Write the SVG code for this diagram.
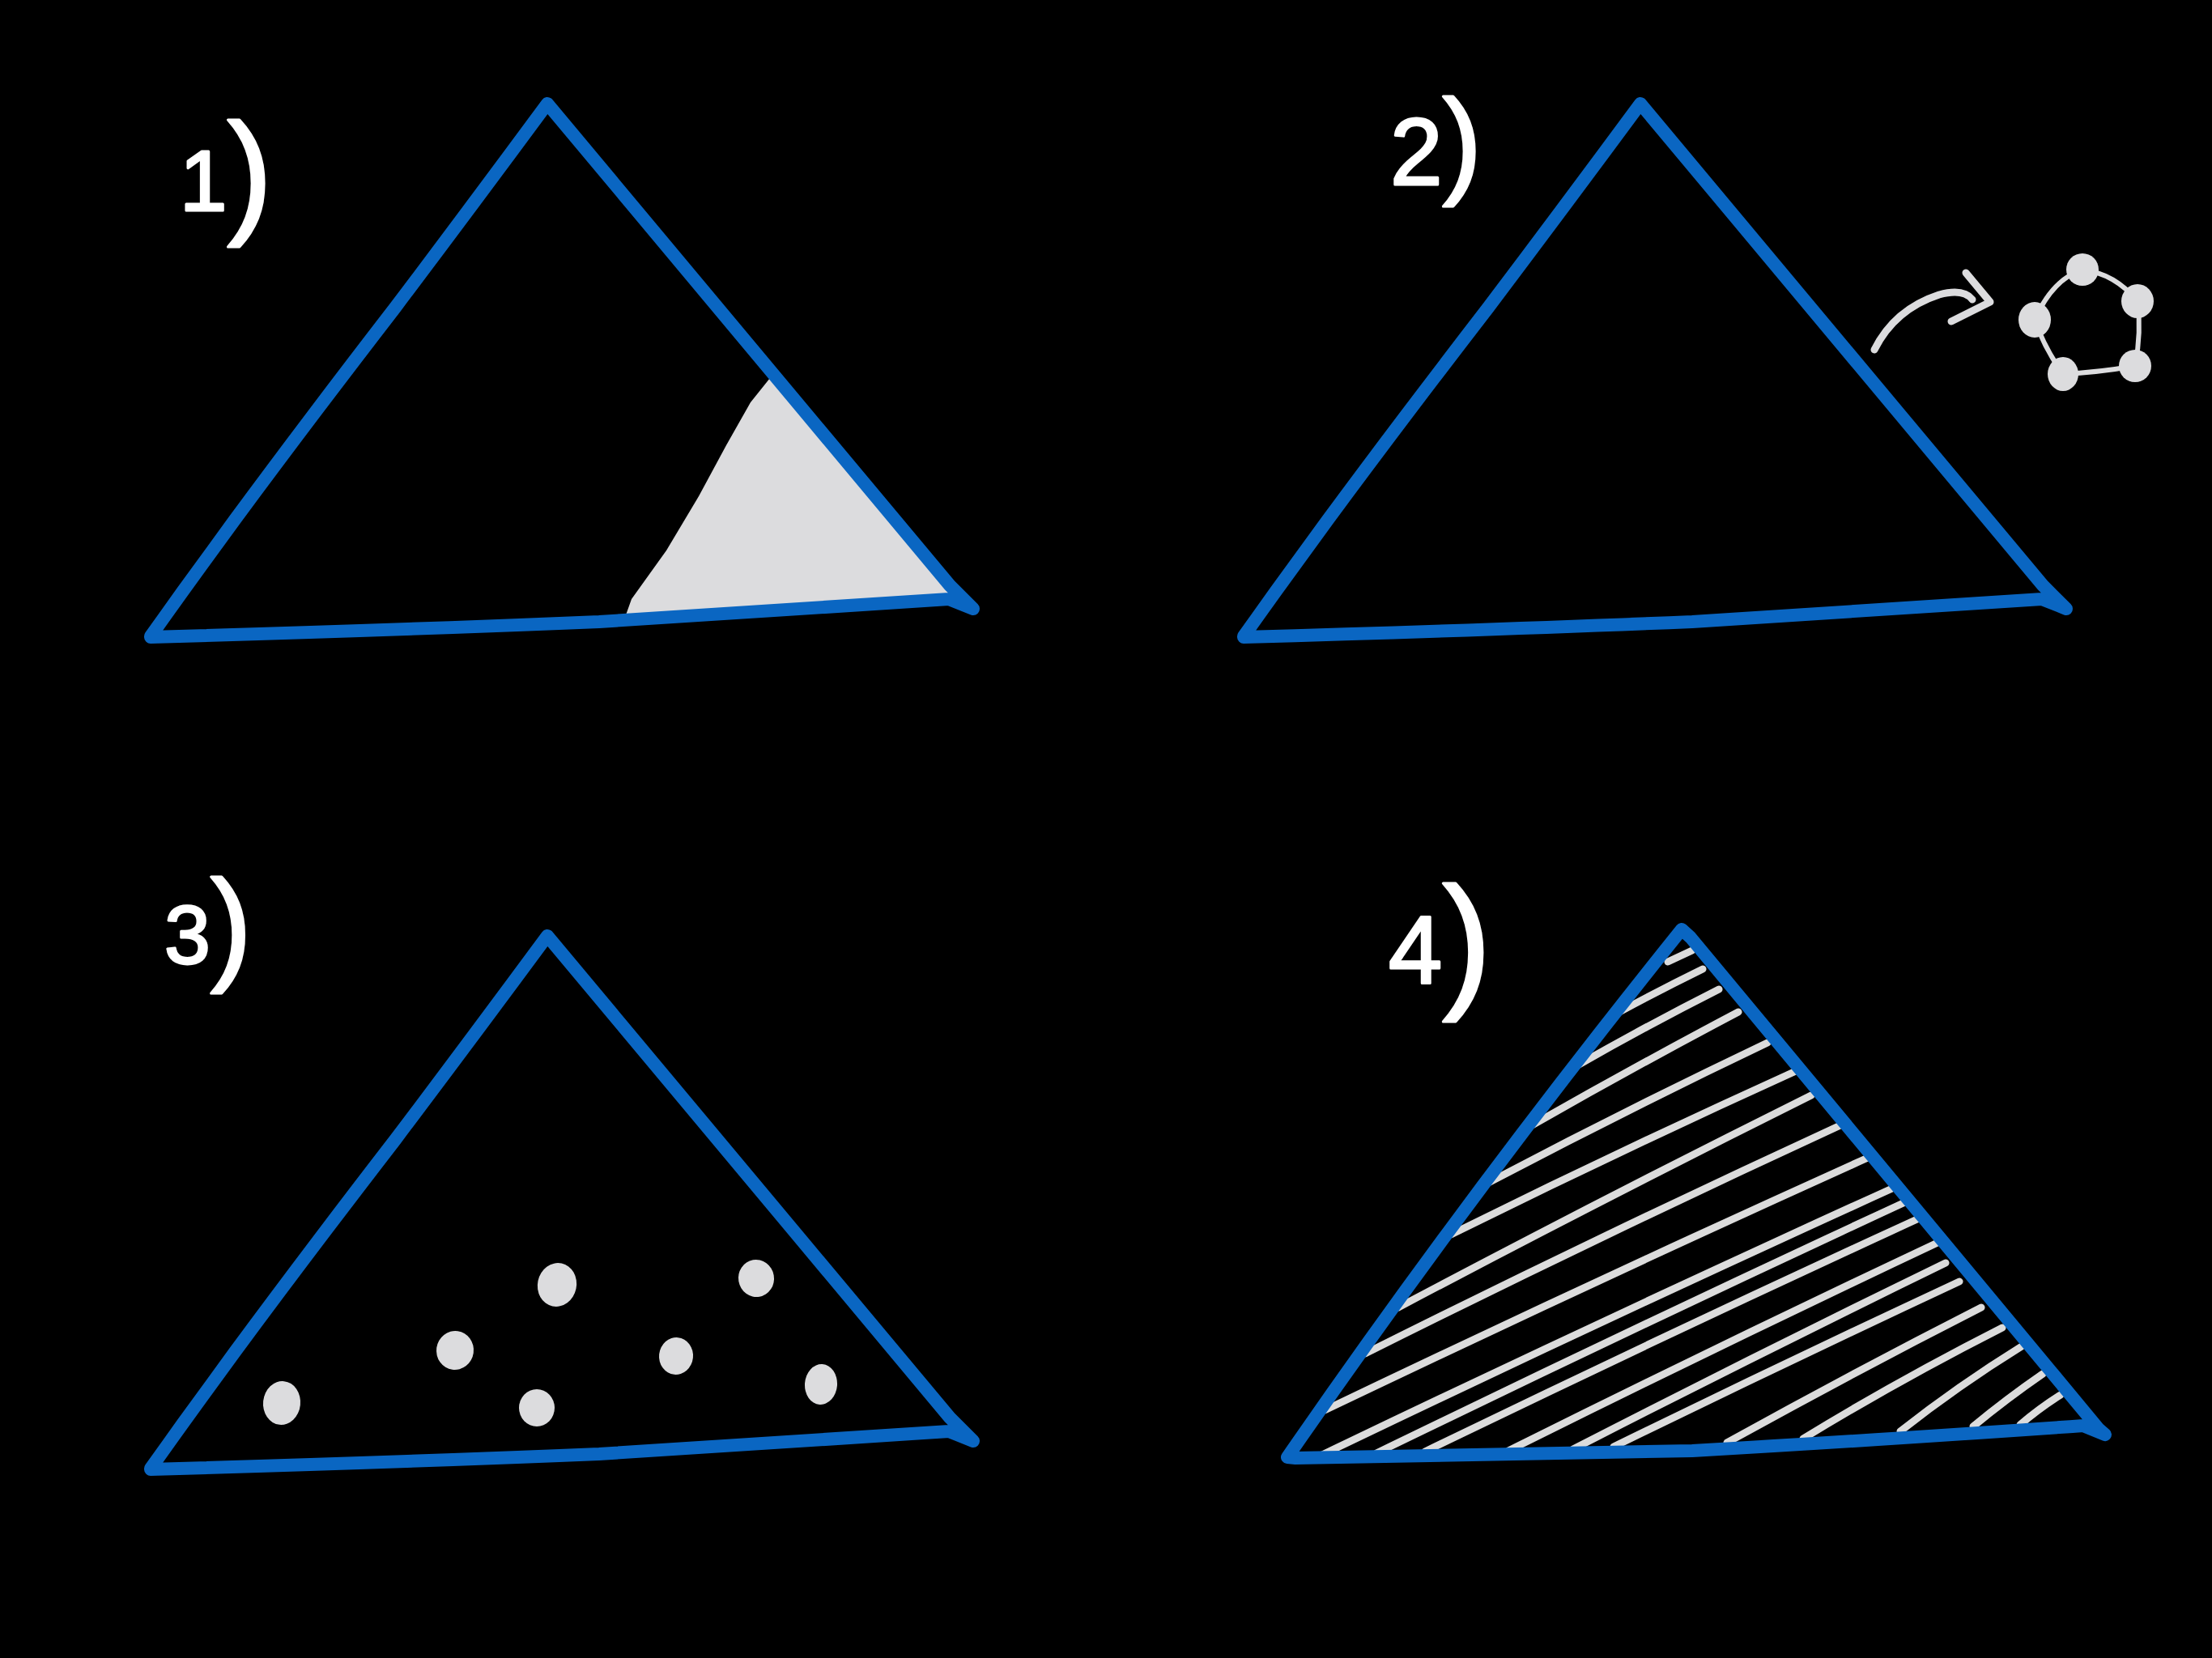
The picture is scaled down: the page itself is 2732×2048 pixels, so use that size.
<svg xmlns="http://www.w3.org/2000/svg" xmlns:xlink="http://www.w3.org/1999/xlink" width="2732" height="2048" viewBox="0 0 2732 2048">
<style>
.tri{fill:none;stroke:#0a66c2;stroke-width:16;stroke-linejoin:round;stroke-linecap:round}
.hatch{fill:none;stroke:#dcdcdc;stroke-width:9;stroke-linecap:round}
.grey{fill:#dcdcde}
.link{fill:none;stroke:#dcdcde;stroke-width:6;stroke-linecap:round}
.arrow{fill:none;stroke:#dcdcde;stroke-width:9;stroke-linecap:round;stroke-linejoin:round}
.label{fill:#ffffff;stroke:#ffffff;stroke-width:3;stroke-linejoin:round;font-family:"Liberation Sans",Arial,sans-serif}
</style>
<defs>
<path id="triShape" d="M186,786 L226,730 L290,642 Q380,520 488,380 Q580,258 676,128 L1173,723 L1202,752 L1172,740 Q960,753 740,768 Q500,778 186,787"/>
</defs>
<rect x="0" y="0" width="2732" height="2048" fill="#000000"/>

<g id="panel-1">
<polygon class="grey" points="955,462 927,497 897,550 863,613 823,680 780,740 770,768 960,756 1175,740 1173,723"/>
<use xlink:href="#triShape" href="#triShape" class="tri"/>
<text class="label" x="222" y="260"><tspan font-size="105">1</tspan><tspan font-size="168" dy="10">)</tspan></text>
</g>

<g id="panel-2">
<use xlink:href="#triShape" href="#triShape" class="tri" transform="translate(1350,0)"/>
<text class="label" x="1717" y="228"><tspan font-size="116">2</tspan><tspan font-size="146" dy="-3">)</tspan></text>
</g>

<g id="molecule">
<path class="link" d="M2572,333 Q2612,338 2640,372"/>
<path class="link" d="M2640,372 Q2645,410 2637,452"/>
<path class="link" d="M2637,452 Q2592,460 2548,462"/>
<path class="link" d="M2548,462 Q2525,430 2513,395"/>
<path class="link" d="M2513,395 Q2535,345 2572,333"/>
<ellipse cx="2572" cy="333" rx="20" ry="20" fill="#dcdcde"/>
<ellipse cx="2640" cy="372" rx="20" ry="21" fill="#dcdcde"/>
<ellipse cx="2637" cy="452" rx="20" ry="20" fill="#dcdcde"/>
<ellipse cx="2548" cy="462" rx="19" ry="21" fill="#dcdcde"/>
<ellipse cx="2513" cy="395" rx="20" ry="22" fill="#dcdcde"/>
</g>

<g id="connectors">
<path class="arrow" d="M2315,432 Q2340,382 2395,364 Q2425,356 2436,370"/>
<polyline class="arrow" points="2428,337 2458,373 2410,397"/>
</g>

<g id="panel-3">
<use xlink:href="#triShape" href="#triShape" class="tri" transform="translate(0,1028)"/>
<text class="label" x="203" y="1190"><tspan font-size="102">3</tspan><tspan font-size="154" dy="5">)</tspan></text>
<g fill="#dcdcde">
<ellipse cx="348" cy="1733" rx="23" ry="27" transform="rotate(6 348 1733)"/>
<ellipse cx="562" cy="1668" rx="23" ry="24" transform="rotate(8 562 1668)"/>
<ellipse cx="688" cy="1587" rx="24" ry="27" transform="rotate(12 688 1587)"/>
<ellipse cx="663" cy="1739" rx="22" ry="23"/>
<ellipse cx="835" cy="1675" rx="21" ry="23" transform="rotate(6 835 1675)"/>
<ellipse cx="934" cy="1579" rx="22" ry="23" transform="rotate(-10 934 1579)"/>
<ellipse cx="1014" cy="1710" rx="20" ry="25" transform="rotate(4 1014 1710)"/>
</g>
</g>

<g id="panel-4">
<g class="hatch">
<path d="M2060,1188 L2090,1174"/>
<path d="M2000,1250 Q2052,1222 2103,1197"/>
<path d="M1950,1315 Q2036,1266 2123,1222"/>
<path d="M1892,1390 Q2020,1317 2147,1250"/>
<path d="M1840,1460 Q2011,1370 2183,1288"/>
<path d="M1792,1525 Q2004,1420 2218,1323"/>
<path d="M1727,1615 Q1982,1480 2237,1353"/>
<path d="M1686,1672 Q1978,1526 2273,1390"/>
<path d="M1636,1742 Q1970,1582 2307,1430"/>
<path d="M1633,1797 Q1985,1628 2337,1468"/>
<path d="M1700,1795 Q2027,1636 2355,1484"/>
<path d="M1760,1793 Q2065,1645 2370,1505"/>
<path d="M1863,1792 Q2128,1660 2393,1535"/>
<path d="M1943,1790 Q2173,1672 2403,1560"/>
<path d="M1993,1787 Q2208,1682 2420,1583"/>
<path d="M2133,1782 Q2288,1696 2447,1615"/>
<path d="M2227,1777 Q2345,1705 2473,1640"/>
<path d="M2347,1768 Q2418,1712 2497,1663"/>
<path d="M2437,1762 Q2478,1728 2523,1697"/>
<path d="M2495,1760 Q2518,1740 2545,1723"/>
</g>
<path class="tri" d="M1590,1800 Q1815,1474 2077,1148 L2088,1158 L2592,1765 L2600,1772 L2573,1761 Q2300,1780 2090,1792 L1600,1801 L1590,1800"/>
<text class="label" x="1715" y="1215"><tspan font-size="119">4</tspan><tspan font-size="183" dy="9">)</tspan></text>
</g>
</svg>
